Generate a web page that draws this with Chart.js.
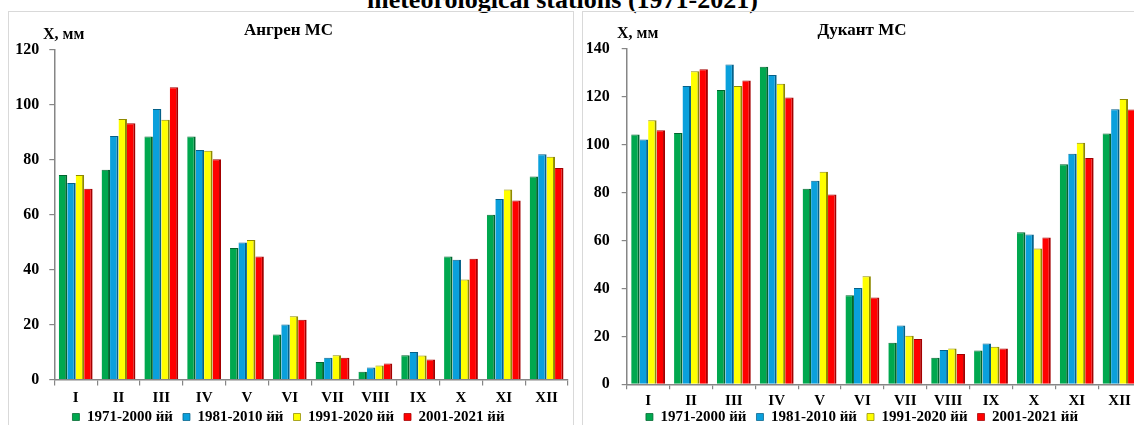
<!DOCTYPE html>
<html>
<head>
<meta charset="utf-8">
<script src="https://cdn.jsdelivr.net/npm/chart.js@4.4.1/dist/chart.umd.min.js"></script>
<style>
  html, body { margin: 0; padding: 0; background: #fff; }
  body { position: relative; width: 1134px; height: 425px; overflow: hidden; font-family: "Liberation Serif", "Times New Roman", serif; }
  .caption { position: absolute; left: 367px; top: -13px; font: bold 26px/26px "Liberation Serif", serif; color: #000; white-space: nowrap; }
  .panel { position: absolute; top: 11px; height: 440px; border: 1px solid #d9d9d9; box-sizing: border-box; }
  .unit { position: absolute; font: bold 16px/16px "Liberation Serif", serif; color: #000; white-space: nowrap; }
  canvas { position: absolute; }
</style>
</head>
<body>
<div class="caption">meteorological stations (1971-2021)</div>
<div class="panel" style="left:8px;width:566px;"></div>
<div class="panel" style="left:582px;width:570px;"></div>
<canvas id="angren" width="564" height="435" style="left:9px;top:12px;"></canvas>
<canvas id="dukant" width="563" height="435" style="left:583px;top:12px;"></canvas>
<div class="unit" style="left:43px;top:25.5px;">X, мм</div>
<div class="unit" style="left:617px;top:25px;">X, мм</div>
<script>
// Months and reference periods
const months = ['I', 'II', 'III', 'IV', 'V', 'VI', 'VII', 'VIII', 'IX', 'X', 'XI', 'XII'];
const periods = ['1971-2000 йй', '1981-2010 йй', '1991-2020 йй', '2001-2021 йй'];

// Angren station, monthly precipitation, mm
const angren1971_2000 = [74.5, 76.4, 88.5, 88.5, 47.9, 16.4, 6.4, 2.8, 8.8, 44.8, 60.0, 73.9];
const angren1981_2010 = [71.6, 88.7, 98.5, 83.6, 49.9, 20.0, 7.9, 4.4, 10.0, 43.6, 65.7, 82.0];
const angren1991_2020 = [74.5, 94.9, 94.6, 83.3, 50.8, 23.0, 8.8, 5.1, 8.7, 36.4, 69.2, 81.1];
const angren2001_2021 = [69.5, 93.3, 106.4, 80.2, 44.8, 21.8, 7.9, 5.8, 7.3, 44.0, 65.2, 77.0];

// Dukant station, monthly precipitation, mm
const dukant1971_2000 = [104.3, 104.9, 122.9, 132.6, 81.6, 37.2, 17.3, 11.1, 14.1, 63.5, 91.9, 104.7];
const dukant1981_2010 = [102.2, 124.6, 133.5, 129.1, 85.0, 40.2, 24.6, 14.3, 17.0, 62.5, 96.3, 114.8];
const dukant1991_2020 = [110.2, 130.7, 124.6, 125.5, 88.7, 45.1, 20.3, 15.0, 15.7, 56.7, 100.9, 119.1];
const dukant2001_2021 = [106.1, 131.5, 126.8, 119.7, 79.2, 36.2, 18.9, 12.7, 15.0, 61.3, 94.5, 114.7];

// Axis ranges
const angrenYMax = 120;
const dukantYMax = 140;
const yStep = 20;

const fills = ['#00a84f', '#0aa0dc', '#ffff00', '#ff0000'];
const edges = ['#00662f', '#04618a', '#8f8a00', '#a30000'];
const axisGray = '#868686';
const serif = '"Liberation Serif", "Times New Roman", serif';

// Pulls the legend row up closer to the month labels after layout
const legendLift = {
  id: 'legendLift',
  afterLayout(chart, args, opts) {
    const lg = chart.legend;
    if (lg && opts.by) { lg.top -= opts.by; lg.bottom -= opts.by; }
  }
};

function buildChart(id, title, series, yMax, geo) {
  return new Chart(document.getElementById(id), {
    type: 'bar',
    plugins: [legendLift],
    data: {
      labels: months,
      datasets: series.map((values, i) => ({
        label: periods[i],
        data: values,
        backgroundColor: fills[i],
        borderColor: edges[i],
        borderWidth: { left: 0, right: 2, top: 1, bottom: 0 },
        borderSkipped: false,
        categoryPercentage: 0.79,
        barPercentage: 1.0
      }))
    },
    options: {
      responsive: false,
      devicePixelRatio: 1,
      animation: false,
      layout: { padding: { left: 0, right: geo.padRight, top: 0, bottom: geo.padBottom } },
      plugins: {
        legendLift: { by: geo.lift },
        title: {
          display: true,
          text: title,
          color: '#000',
          font: { family: serif, size: 17, weight: 'bold' },
          padding: { top: 8, bottom: geo.titleBottom }
        },
        legend: {
          position: 'bottom',
          labels: {
            color: '#000',
            font: { family: serif, size: 15, weight: 'bold' },
            boxWidth: 7,
            boxHeight: 7,
            padding: 10
          }
        },
        tooltip: { enabled: false }
      },
      scales: {
        x: {
          grid: { drawOnChartArea: false, drawTicks: true, tickLength: geo.xTick, color: axisGray, lineWidth: 1.2, offset: true },
          border: { color: axisGray, width: 1.5 },
          ticks: { color: '#000', font: { family: serif, size: 15, weight: 'bold' }, padding: geo.xPad, maxRotation: 0, autoSkip: false },
          afterFit: (axis) => { axis.height = geo.xHeight; }
        },
        y: {
          min: 0,
          max: yMax,
          grid: { drawOnChartArea: false, drawTicks: true, tickLength: 5, color: axisGray, lineWidth: 1.2 },
          border: { color: axisGray, width: 1.5 },
          ticks: { stepSize: yStep, color: '#000', font: { family: serif, size: 16, weight: 'bold' }, padding: geo.yPad },
          afterFit: (axis) => { axis.width = geo.yWidth; }
        }
      }
    }
  });
}

buildChart('angren', 'Ангрен МС',
  [angren1971_2000, angren1981_2010, angren1991_2020, angren2001_2021], angrenYMax,
  { padRight: 5, padBottom: 4.5, titleBottom: 9.6, xHeight: 28, xTick: 6, xPad: 4, yPad: 10, yWidth: 45.3, lift: 8 });

buildChart('dukant', 'Дукант МС',
  [dukant1971_2000, dukant1981_2010, dukant1991_2020, dukant2001_2021], dukantYMax,
  { padRight: 5, padBottom: 3.7, titleBottom: 8.6, xHeight: 24, xTick: 5, xPad: 3, yPad: 12, yWidth: 43.7, lift: 8.8 });
</script>
</body>
</html>
